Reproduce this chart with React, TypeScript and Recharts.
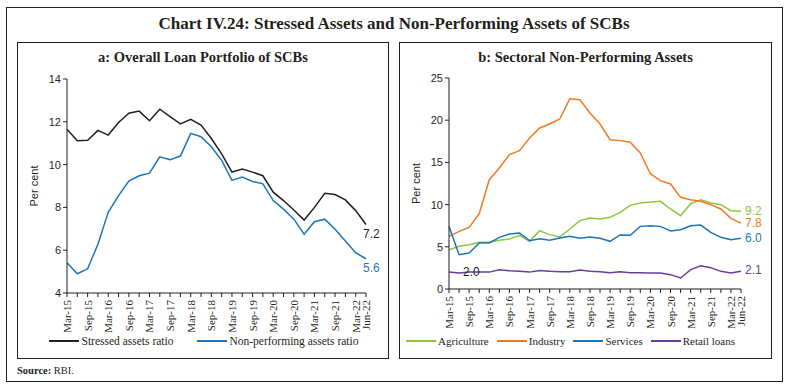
import { LineChart, Line, XAxis, YAxis, Legend, LabelList } from "recharts";

const quarters = [
  "Mar-15", "Jun-15", "Sep-15", "Dec-15", "Mar-16", "Jun-16", "Sep-16", "Dec-16",
  "Mar-17", "Jun-17", "Sep-17", "Dec-17", "Mar-18", "Jun-18", "Sep-18", "Dec-18",
  "Mar-19", "Jun-19", "Sep-19", "Dec-19", "Mar-20", "Jun-20", "Sep-20", "Dec-20",
  "Mar-21", "Jun-21", "Sep-21", "Dec-21", "Mar-22", "Jun-22",
];

const stressed = [
  11.65, 11.11, 11.14, 11.6, 11.38, 11.97, 12.4, 12.5, 12.05, 12.59,
  12.24, 11.9, 12.12, 11.85, 11.22, 10.5, 9.65, 9.79, 9.65, 9.48,
  8.71, 8.32, 7.88, 7.41, 8.0, 8.66, 8.6, 8.35, 7.85, 7.2,
];
const npa = [
  5.41, 4.9, 5.13, 6.28, 7.77, 8.55, 9.23, 9.48, 9.6, 10.36,
  10.23, 10.4, 11.46, 11.3, 10.83, 10.2, 9.26, 9.42, 9.21, 9.1,
  8.32, 7.92, 7.45, 6.75, 7.33, 7.45, 6.98, 6.43, 5.88, 5.6,
];

const agriculture = [
  4.66, 5.06, 5.25, 5.53, 5.53, 5.77, 5.92, 6.36, 5.65, 6.91,
  6.44, 6.16, 7.11, 8.1, 8.41, 8.29, 8.49, 9.08, 9.91, 10.19,
  10.31, 10.39, 9.48, 8.69, 10.11, 10.58, 10.19, 9.99, 9.28, 9.2,
];
const industry = [
  6.24, 6.83, 7.3, 8.93, 12.95, 14.34, 15.92, 16.39, 17.89, 19.08,
  19.55, 20.14, 22.55, 22.43, 20.85, 19.55, 17.69, 17.58, 17.38, 16.11,
  13.66, 12.84, 12.44, 10.86, 10.58, 10.39, 9.99, 9.48, 8.37, 7.8,
];
const services = [
  7.42, 4.07, 4.27, 5.45, 5.45, 6.12, 6.52, 6.64, 5.73, 5.96,
  5.77, 6.04, 6.24, 6.0, 6.16, 6.0, 5.65, 6.4, 6.36, 7.42,
  7.5, 7.42, 6.87, 7.03, 7.5, 7.58, 6.71, 6.12, 5.85, 6.0,
];
const retail = [
  2.0, 1.9, 2.0, 2.0, 2.0, 2.29, 2.17, 2.09, 2.0, 2.2,
  2.09, 2.05, 2.05, 2.25, 2.09, 2.05, 1.94, 2.05, 1.94, 1.94,
  1.9, 1.9, 1.7, 1.3, 2.29, 2.76, 2.53, 2.09, 1.9, 2.1,
];

const leftTicks = [4, 6, 8, 10, 12, 14];
const rightTicks = [0, 5, 10, 15, 20, 25];

const colors = {
  stressed: "#231f20",
  npa: "#1c75bc",
  agriculture: "#8dc63f",
  industry: "#f47920",
  services: "#1c75bc",
  retail: "#6a3d9a",
};

const legendA = [
  { name: "Stressed assets ratio", color: colors.stressed },
  { name: "Non-performing assets ratio", color: colors.npa },
];
const legendB = [
  { name: "Agriculture", color: colors.agriculture },
  { name: "Industry", color: colors.industry },
  { name: "Services", color: colors.services },
  { name: "Retail loans", color: colors.retail },
];

const dataA = quarters.map((q, i) => ({ q, stressed: stressed[i], npa: npa[i] }));
const dataB = quarters.map((q, i) => ({
  q,
  agriculture: agriculture[i],
  industry: industry[i],
  services: services[i],
  retail: retail[i],
}));

const serif = "'Liberation Serif', serif";
const sans = "'Liberation Sans', sans-serif";
const ink = "#231f20";
const last = quarters.length - 1;

const XTick = (props: any) => {
  const { x, y, payload } = props;
  const i = payload.index;
  if (i % 2 !== 0 && i !== last) return null;
  return (
    <text
      x={x}
      y={y}
      dy={4}
      dx={-1}
      transform={`rotate(-90, ${x}, ${y})`}
      textAnchor="end"
      fontSize={11}
      fontFamily={serif}
      fill={ink}
    >
      {payload.value}
    </text>
  );
};

// value label at the end of a line (or at a chosen point)
const endLabel = (color: string, at: number, dx: number, dy: number) => (props: any) => {
  const { x, y, value, index } = props;
  if (index !== at) return null;
  return (
    <text x={x + dx} y={y + dy} fontSize={12} fontFamily={sans} fill={color} dominantBaseline="middle">
      {Number(value).toFixed(1)}
    </text>
  );
};

const LegendRow = ({ items, gap, shift, size }: any) => (
  <div style={{ display: "flex", justifyContent: "center", gap, paddingLeft: shift, fontFamily: serif, fontSize: size, color: ink, whiteSpace: "nowrap" }}>
    {items.map((p: any) => (
      <div key={p.name} style={{ display: "flex", alignItems: "center" }}>
        <span style={{ width: 30, height: 2.5, background: p.color, display: "inline-block", marginRight: 2 }} />
        {p.name}
      </div>
    ))}
  </div>
);

const box = (left: number, top: number, width: number, height: number) => ({
  position: "absolute" as const,
  left,
  top,
  width,
  height,
  border: "1.5px solid #231f20",
  boxSizing: "border-box" as const,
});

const subtitle = {
  position: "absolute" as const,
  top: 6,
  left: 0,
  right: 0,
  textAlign: "center" as const,
  fontFamily: serif,
  fontWeight: 700,
  fontSize: 14.5,
  color: ink,
};

export default function App() {
  return (
    <div style={{ position: "absolute", left: 0, top: 0, width: 788, height: 389, background: "#fff" }}>
      <div style={box(6, 7, 777, 375)} />
      <div style={{ position: "absolute", top: 14, left: 0, width: 788, textAlign: "center", fontFamily: serif, fontWeight: 700, fontSize: 17, color: ink }}>
        Chart IV.24: Stressed Assets and Non-Performing Assets of SCBs
      </div>

      <div style={box(17, 42, 372, 317)}>
        <div style={subtitle}>a: Overall Loan Portfolio of SCBs</div>
        <LineChart width={370} height={314} data={dataA} margin={{ top: 36, right: 22, left: 0, bottom: 4 }}>
          <XAxis dataKey="q" interval={0} tick={<XTick />} tickSize={4} height={42} stroke={ink} />
          <YAxis
            domain={[4, 14]}
            ticks={leftTicks}
            width={49}
            tickSize={4}
            stroke={ink}
            tick={{ fontSize: 11, fontFamily: sans, fill: ink }}
            label={{ value: "Per cent", angle: -90, position: "insideLeft", offset: 16, style: { textAnchor: "middle", fontSize: 11, fontFamily: sans, fill: ink } }}
          />
          <Legend verticalAlign="bottom" height={18} content={<LegendRow items={legendA} gap={24} shift={24} size={11.5} />} />
          <Line dataKey="stressed" name="Stressed assets ratio" stroke={colors.stressed} strokeWidth={1.5} dot={false} isAnimationActive={false}>
            <LabelList dataKey="stressed" content={endLabel(ink, last, -3, 10)} />
          </Line>
          <Line dataKey="npa" name="Non-performing assets ratio" stroke={colors.npa} strokeWidth={1.5} dot={false} isAnimationActive={false}>
            <LabelList dataKey="npa" content={endLabel(colors.npa, last, -3, 10)} />
          </Line>
        </LineChart>
      </div>

      <div style={box(399, 42, 373, 317)}>
        <div style={subtitle}>b: Sectoral Non-Performing Assets</div>
        <LineChart width={371} height={314} data={dataB} margin={{ top: 35, right: 30, left: 0, bottom: 4 }}>
          <XAxis dataKey="q" interval={0} tick={<XTick />} tickSize={4} height={46} stroke={ink} />
          <YAxis
            domain={[0, 25]}
            ticks={rightTicks}
            width={49}
            tickSize={4}
            stroke={ink}
            tick={{ fontSize: 11, fontFamily: sans, fill: ink }}
            label={{ value: "Per cent", angle: -90, position: "insideLeft", offset: 16, style: { textAnchor: "middle", fontSize: 11, fontFamily: sans, fill: ink } }}
          />
          <Legend verticalAlign="bottom" height={18} content={<LegendRow items={legendB} gap={8} shift={0} size={11} />} />
          <Line dataKey="agriculture" name="Agriculture" stroke={colors.agriculture} strokeWidth={1.5} dot={false} isAnimationActive={false}>
            <LabelList dataKey="agriculture" content={endLabel(colors.agriculture, last, 4, 0)} />
          </Line>
          <Line dataKey="industry" name="Industry" stroke={colors.industry} strokeWidth={1.5} dot={false} isAnimationActive={false}>
            <LabelList dataKey="industry" content={endLabel(colors.industry, last, 4, 1)} />
          </Line>
          <Line dataKey="services" name="Services" stroke={colors.services} strokeWidth={1.5} dot={false} isAnimationActive={false}>
            <LabelList dataKey="services" content={endLabel(colors.services, last, 4, 0)} />
          </Line>
          <Line dataKey="retail" name="Retail loans" stroke={colors.retail} strokeWidth={1.5} dot={false} isAnimationActive={false}>
            <LabelList dataKey="retail" content={endLabel(colors.retail, last, 4, 0)} />
            <LabelList dataKey="retail" content={endLabel(ink, 0, 14, 1)} />
          </Line>
        </LineChart>
      </div>

      <div style={{ position: "absolute", left: 17, top: 365, fontFamily: serif, fontSize: 10.5, color: ink }}>
        <b>Source:</b> RBI.
      </div>
    </div>
  );
}
